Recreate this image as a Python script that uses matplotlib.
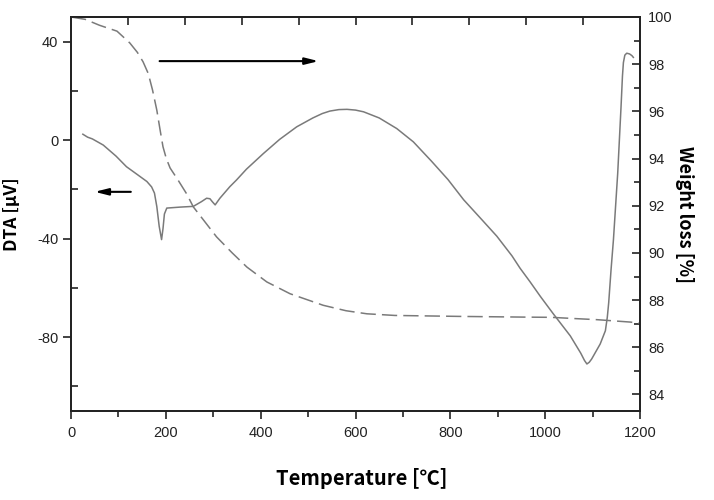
import numpy as np
import matplotlib
matplotlib.use("Agg")
import matplotlib.pyplot as plt
from matplotlib.ticker import MultipleLocator, FixedLocator, NullFormatter

plt.rcParams['axes.unicode_minus'] = False

# DTA curve (solid, left axis)
dta_temp = [25, 35, 45, 68, 95, 117, 140, 160, 170, 176, 181, 186, 191, 194, 197,
            202, 230, 258, 275, 286, 293, 298, 304, 314, 335, 349, 370, 406, 440,
            476, 510, 530, 546, 565, 582, 600, 617, 650, 687, 722, 760, 795, 828,
            865, 898, 930, 947, 968, 990, 1017, 1035, 1053, 1075, 1083, 1088,
            1093, 1098, 1116, 1127, 1131, 1134, 1139, 1144, 1153, 1160, 1163,
            1165, 1168, 1172, 1178, 1183, 1186]
dta_uv = [2.4, 1.2, 0.5, -2, -6.5, -10.8, -14, -16.8, -19, -21.5, -27, -35, -40.4,
          -36, -30, -27.6, -27.2, -26.9, -25, -23.6, -23.8, -25, -26.3, -23.6,
          -18.9, -16.2, -11.8, -5.4, 0.3, 5.4, 9, 10.8, 11.8, 12.4, 12.5, 12.2,
          11.5, 9, 4.7, -0.7, -8.5, -16, -24.2, -32, -39, -47, -52, -57.5, -63.5,
          -70.5, -75, -79.5, -86.5, -89.5, -90.9, -90.2, -88.9, -82.8, -77.4, -72,
          -66, -52.5, -40.4, -13.4, 13.5, 26, 31.5, 34.5, 35.3, 35, 34.3, 33.6]

# TG curve (dashed, right axis)
tg_temp = [0, 30, 60, 97, 124, 140, 152, 163, 172, 181, 188, 194, 201, 209, 226,
           244, 258, 280, 307, 340, 371, 413, 462, 532, 580, 624, 683, 818, 954,
           1013, 1060, 1110, 1179, 1200]
tg_weight = [100, 99.9, 99.65, 99.4, 98.9, 98.5, 98.1, 97.6, 96.9, 96.05, 95.2,
             94.5, 94.0, 93.6, 93.08, 92.5, 91.95, 91.38, 90.68, 90.0, 89.4, 88.77,
             88.27, 87.78, 87.55, 87.42, 87.35, 87.31, 87.28, 87.27, 87.22, 87.17,
             87.07, 87.02]

x_ticks = [0, 200, 400, 600, 800, 1000, 1200]
left_ticks = [-80, -40, 0, 40]
right_ticks = [84, 86, 88, 90, 92, 94, 96, 98, 100]

label_font = ['Noto Sans CJK KR', 'DejaVu Sans']
tick_font = 'Liberation Sans'
line_col = '#7a7a7a'
axis_col = '#222222'

fig = plt.figure(figsize=(7.14, 5.0), dpi=100)
ax = fig.add_axes([71/714, 1 - 411/500, 569/714, 394/500])
ax2 = ax.twinx()

ax.plot(dta_temp, dta_uv, color=line_col, lw=1.1)
ax2.plot(tg_temp, tg_weight, color=line_col, lw=1.1, dashes=(10, 4))

ax.set_xlim(0, 1200)
ax.set_ylim(-110, 50)
ax2.set_ylim(83.3, 100)

ax.xaxis.set_major_locator(FixedLocator(x_ticks))
ax.xaxis.set_minor_locator(MultipleLocator(100))
ax.yaxis.set_major_locator(FixedLocator(left_ticks))
ax.yaxis.set_minor_locator(MultipleLocator(20))
ax2.yaxis.set_major_locator(FixedLocator(right_ticks))
ax2.yaxis.set_minor_locator(MultipleLocator(1))

for a in (ax, ax2):
    for s in a.spines.values():
        s.set_linewidth(1.3)
        s.set_color(axis_col)

ax.tick_params(axis='x', which='major', direction='out', length=6, width=1.2,
               colors=axis_col, labelsize=10.5, pad=5)
ax.tick_params(axis='x', which='minor', direction='out', length=4, width=1.2,
               colors=axis_col)
ax.tick_params(axis='y', which='major', direction='out', length=6, width=1.2,
               colors=axis_col, labelsize=10.5, pad=3)
ax.tick_params(axis='y', which='minor', direction='in', length=5, width=1.2,
               colors=axis_col)
ax2.tick_params(axis='y', which='major', direction='in', length=6, width=1.2,
                colors=axis_col, labelsize=10.5, pad=6)
ax2.tick_params(axis='y', which='minor', direction='in', length=4, width=1.2,
                colors=axis_col)
for lab in ax.get_xticklabels() + ax.get_yticklabels() + ax2.get_yticklabels():
    lab.set_family(tick_font)
    lab.set_color('#222222')

# top axis ticks (10 divisions, inward, no labels)
top = ax.secondary_xaxis('top')
top.xaxis.set_major_locator(FixedLocator(np.arange(120, 1200, 120)))
top.xaxis.set_major_formatter(NullFormatter())
top.tick_params(direction='in', length=6, width=1.2, colors=axis_col)
top.spines['top'].set_linewidth(1.3)
top.spines['top'].set_color(axis_col)

ax.set_xlabel('Temperature [℃]', family=label_font, fontweight='bold', fontsize=14.5)
ax.set_ylabel('DTA [μV]', family=label_font, fontweight='bold', fontsize=12.5)
ax2.set_ylabel('Weight loss [%]', family=label_font, fontweight='bold', fontsize=13,
               rotation=-90)
ax.xaxis.set_label_coords(0.51, -0.145)
ax.yaxis.set_label_coords(-0.088, 0.5)
ax2.yaxis.set_label_coords(1.095, 0.5)

# arrows showing which axis each curve belongs to
arrow_kw = dict(arrowstyle='-|>,head_length=0.8,head_width=0.2', color='black', lw=1.5)
ax2.annotate('', xy=(528, 98.13), xytext=(181, 98.13), arrowprops=arrow_kw)
ax.annotate('', xy=(44, -21), xytext=(132, -21), arrowprops=arrow_kw)

fig.savefig('out.png', dpi=100)
